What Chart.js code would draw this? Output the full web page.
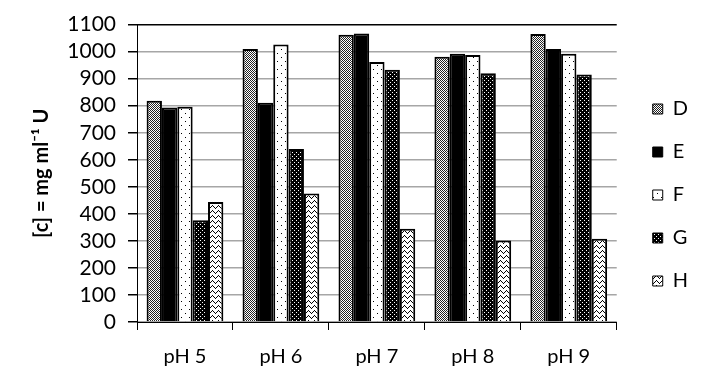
<!DOCTYPE html>
<html>
<head>
<meta charset="utf-8">
<script src="https://cdn.jsdelivr.net/npm/chart.js@4"></script>
<style>
  html, body { margin: 0; padding: 0; background: #fff; }
  #wrap { width: 709px; height: 384px; }
</style>
</head>
<body>
<div id="wrap"><canvas id="myChart" width="709" height="384"></canvas></div>
<script>
var categories = ["pH 5", "pH 6", "pH 7", "pH 8", "pH 9"];
var seriesNames = ["D", "E", "F", "G", "H"];
var valuesD = [818, 1010, 1062, 981, 1065];
var valuesE = [793, 811, 1067, 992, 1010];
var valuesF = [796, 1026, 962, 988, 992];
var valuesG = [376, 640, 933, 920, 915];
var valuesH = [444, 475, 345, 301, 308];
var yTicks = [0, 100, 200, 300, 400, 500, 600, 700, 800, 900, 1000, 1100];

// fill patterns, drawn on tiny canvases
function makePattern(w, h, draw) {
  var c = document.createElement('canvas');
  c.width = w;
  c.height = h;
  var g = c.getContext('2d');
  draw(g);
  return document.getElementById('myChart').getContext('2d').createPattern(c, 'repeat');
}

var patD = makePattern(2, 2, function(g) {
  g.fillStyle = '#fff'; g.fillRect(0, 0, 2, 2);
  g.fillStyle = '#222'; g.fillRect(0, 0, 1, 1); g.fillRect(1, 1, 1, 1);
});
var patE = '#000';
var patF = makePattern(8, 8, function(g) {
  g.fillStyle = '#fff'; g.fillRect(0, 0, 8, 8);
  g.fillStyle = '#000'; g.fillRect(1, 1, 1, 1); g.fillRect(5, 5, 1, 1);
});
var patG = makePattern(4, 4, function(g) {
  g.fillStyle = '#000'; g.fillRect(0, 0, 4, 4);
  g.fillStyle = '#fff'; g.fillRect(0, 0, 1, 1); g.fillRect(2, 2, 1, 1);
});
var patH = makePattern(6, 5, function(g) {
  g.fillStyle = '#fff'; g.fillRect(0, 0, 6, 5);
  g.fillStyle = '#000';
  g.fillRect(0, 2, 1, 1); g.fillRect(1, 1, 1, 1); g.fillRect(2, 0, 1, 1);
  g.fillRect(3, 1, 1, 1); g.fillRect(4, 2, 1, 1); g.fillRect(5, 3, 1, 1);
});

var fills = [patD, patE, patF, patG, patH];
var allValues = [valuesD, valuesE, valuesF, valuesG, valuesH];

var datasets = seriesNames.map(function(name, i) {
  return {
    label: name,
    data: allValues[i],
    backgroundColor: fills[i],
    borderColor: '#000',
    borderWidth: 2,
    borderSkipped: 'bottom',
    categoryPercentage: 0.8,
    barPercentage: 1.0
  };
});

var fontName = "Lato, 'Open Sans', sans-serif";

// nudge the legend a bit right and up, like the original
var legendShift = {
  id: 'legendShift',
  afterLayout: function(chart) {
    var lg = chart.legend;
    lg.left += 13; lg.right += 13;
    lg.top -= 7; lg.bottom -= 7;
  }
};

var obj = {
  type: 'bar',
  data: { labels: categories, datasets: datasets },
  plugins: [legendShift],
  options: {
    responsive: false,
    animation: false,
    layout: { padding: { left: 30, right: 24, top: 20, bottom: 0 } },
    plugins: {
      tooltip: { enabled: false },
      legend: {
        position: 'right',
        labels: {
          boxWidth: 10,
          boxHeight: 10,
          padding: 23,
          color: '#000',
          font: { family: fontName, size: 20 },
          generateLabels: function(chart) {
            return chart.data.datasets.map(function(ds, i) {
              return {
                text: ds.label,
                fillStyle: ds.backgroundColor,
                strokeStyle: '#000',
                lineWidth: 1,
                datasetIndex: i
              };
            });
          }
        }
      }
    },
    scales: {
      x: {
        grid: {
          offset: true,
          drawOnChartArea: false,
          color: '#000',
          tickLength: 8,
          lineWidth: 1
        },
        border: { color: '#000', width: 1 },
        ticks: {
          color: '#000',
          padding: 15,
          font: { family: fontName, size: 20 }
        }
      },
      y: {
        min: 0,
        max: 1100,
        afterBuildTicks: function(scale) {
          scale.ticks = yTicks.map(function(v) { return { value: v }; });
        },
        afterFit: function(scale) { scale.width = 107; },
        grid: {
          color: function(ctx) {
            return ctx.tick && ctx.tick.value === 1100 ? '#000' : '#a6a6a6';
          },
          lineWidth: 1.5,
          tickLength: 9,
          tickColor: '#000'
        },
        border: { color: '#000', width: 1 },
        ticks: {
          color: '#000',
          padding: 12,
          autoSkip: false,
          font: { family: fontName, size: 21 },
          callback: function(v) { return String(v); }
        },
        title: {
          display: true,
          text: '[c] = mg ml\u207B\u00B9 U',
          color: '#000',
          padding: { top: 0, bottom: 8 },
          font: { family: fontName, size: 20, weight: 'bold' }
        }
      }
    }
  }
};

var ctx = document.getElementById('myChart').getContext('2d');
var myChart = new Chart(ctx, obj);
</script>
</body>
</html>
